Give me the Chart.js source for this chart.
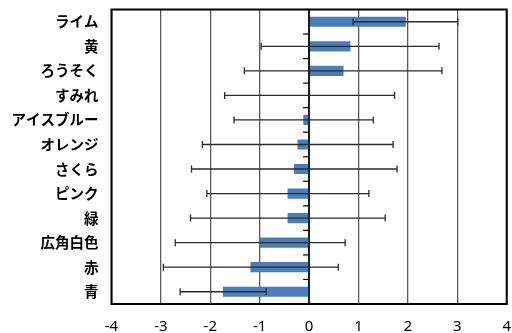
<!DOCTYPE html>
<html>
<head>
<meta charset="utf-8">
<script src="https://cdn.jsdelivr.net/npm/chart.js@4"></script>
<style>
  html, body { margin: 0; padding: 0; background: #fff; }
  #wrap { width: 512px; height: 333px; }
</style>
</head>
<body>
<div id="wrap"><canvas id="c" width="512" height="333"></canvas></div>
<script>
// Colour names, mean score and error (±) per colour
const categories = ['ライム', '黄', 'ろうそく', 'すみれ', 'アイスブルー', 'オレンジ', 'さくら', 'ピンク', '緑', '広角白色', '赤', '青'];
const means = [1.95, 0.83, 0.69, 0.01, -0.11, -0.23, -0.30, -0.43, -0.43, -0.99, -1.18, -1.74];
const errors = [1.06, 1.80, 2.00, 1.72, 1.41, 1.93, 2.08, 1.64, 1.97, 1.72, 1.77, 0.87];
const xTicks = [-4, -3, -2, -1, 0, 1, 2, 3, 4];

// Frame, category ticks on the zero axis, and error bars
const decorations = {
  id: 'decorations',
  afterDatasetsDraw(chart) {
    const { ctx, chartArea: a, scales: { x, y } } = chart;
    const x0 = x.getPixelForValue(0);
    ctx.save();

    // zero axis line
    ctx.strokeStyle = '#000';
    ctx.lineWidth = 1.5;
    ctx.beginPath();
    ctx.moveTo(x0, a.top);
    ctx.lineTo(x0, a.bottom);
    ctx.stroke();

    // tick marks between categories
    const step = y.getPixelForValue(1) - y.getPixelForValue(0);
    ctx.lineWidth = 1.2;
    for (let i = 0; i <= categories.length; i++) {
      const py = y.getPixelForValue(i) - step / 2;
      ctx.beginPath();
      ctx.moveTo(x0 - 6, py);
      ctx.lineTo(x0, py);
      ctx.stroke();
    }

    // error bars
    ctx.strokeStyle = '#2b2b2b';
    ctx.lineWidth = 1.3;
    means.forEach((m, i) => {
      const py = y.getPixelForValue(i);
      const xl = x.getPixelForValue(m - errors[i]);
      const xr = x.getPixelForValue(m + errors[i]);
      ctx.beginPath();
      ctx.moveTo(xl, py);
      ctx.lineTo(xr, py);
      ctx.moveTo(xl, py - 3.5);
      ctx.lineTo(xl, py + 3.5);
      ctx.moveTo(xr, py - 3.5);
      ctx.lineTo(xr, py + 3.5);
      ctx.stroke();
    });

    // plot frame
    ctx.strokeStyle = '#000';
    ctx.lineWidth = 2;
    ctx.strokeRect(a.left, a.top, a.right - a.left, a.bottom - a.top);
    ctx.restore();
  }
};

new Chart(document.getElementById('c'), {
  type: 'bar',
  data: {
    labels: categories,
    datasets: [{
      data: means,
      backgroundColor: '#4a7ebb',
      borderWidth: 0,
      barThickness: 9.5
    }]
  },
  options: {
    indexAxis: 'y',
    responsive: false,
    animation: false,
    devicePixelRatio: 1,
    layout: { padding: { top: 9.5, right: 5.3, left: 0, bottom: 0 } },
    plugins: { legend: { display: false }, tooltip: { enabled: false } },
    scales: {
      x: {
        type: 'linear',
        min: -4,
        max: 4,
        afterBuildTicks(scale) { scale.ticks = xTicks.map(v => ({ value: v })); },
        afterFit(scale) {
          scale.height = 29;
          scale.paddingLeft = 0;
          scale.paddingRight = 0;
        },
        grid: {
          color: '#5a5a5a',
          lineWidth: 1.3,
          drawTicks: false
        },
        border: { display: false },
        ticks: {
          padding: 14,
          color: '#000',
          font: { family: 'Noto Sans', size: 15 }
        }
      },
      y: {
        afterFit(scale) {
          scale.width = 111.5;
          scale.paddingTop = 0;
          scale.paddingBottom = 0;
        },
        grid: { display: false, drawTicks: false },
        border: { display: false },
        ticks: {
          padding: 13,
          color: '#000',
          font: { family: 'Noto Sans CJK JP', size: 14.5, weight: 'bold' }
        }
      }
    }
  },
  plugins: [decorations]
});
</script>
</body>
</html>
